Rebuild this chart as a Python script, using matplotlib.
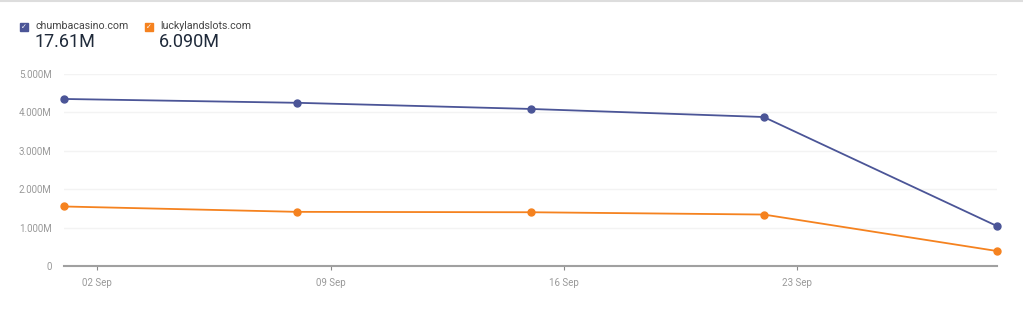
import numpy as np
import pandas as pd
import matplotlib.pyplot as plt
import matplotlib.dates as mdates
from matplotlib.ticker import FuncFormatter

# data
dates = pd.to_datetime(["2024-09-01", "2024-09-08", "2024-09-15", "2024-09-22", "2024-09-29"])
chumba = [4.35e6, 4.25e6, 4.09e6, 3.88e6, 1.04e6]
luckyland = [1.55e6, 1.41e6, 1.40e6, 1.34e6, 0.39e6]
names = ["chumbacasino.com", "luckylandslots.com"]
totals = ["17.61M", "6.090M"]
colors = ["#4b5597", "#f5821f"]

plt.rcParams["font.family"] = ["Roboto", "DejaVu Sans"]

fig = plt.figure(figsize=(10.23, 3.18), dpi=100)
ax = fig.add_axes([64 / 1023, 1 - 266 / 318, (997 - 64) / 1023, (266 - 74) / 318])

for vals, c in zip([chumba, luckyland], colors):
    ax.plot(dates, vals, color=c, lw=1.3, marker="o", ms=5, zorder=3, clip_on=False)

ax.set_xlim(dates[0], dates[-1])
ax.set_ylim(0, 5e6)
ax.set_yticks([0, 1e6, 2e6, 3e6, 4e6, 5e6])
ax.yaxis.set_major_formatter(FuncFormatter(lambda v, p: "0" if v == 0 else f"{v / 1e6:.3f}M"))
ax.xaxis.set_major_formatter(mdates.DateFormatter("%d Sep"))
ax.set_xticks(pd.to_datetime(["2024-09-02", "2024-09-09", "2024-09-16", "2024-09-23"]))

ax.grid(axis="y", color="#f3f3f3", lw=1)
ax.set_axisbelow(True)
for s in ["top", "right", "left"]:
    ax.spines[s].set_visible(False)
ax.spines["bottom"].set_color("#a0a0a0")
ax.spines["bottom"].set_linewidth(1.5)
ax.tick_params(axis="y", length=0, pad=9, labelsize=7, labelcolor="#999999")
ax.tick_params(axis="x", length=3, color="#888888", pad=6, labelsize=7, labelcolor="#999999")

# header legend
fig.add_artist(plt.Line2D([0, 1], [0.997, 0.997], color="#dddddd", lw=1.5))
for i, (n, t, c) in enumerate(zip(names, totals, colors)):
    x0 = 20 + i * 125
    fig.patches.append(plt.Rectangle((x0 / 1023, 1 - 31 / 318), 8 / 1023, 8 / 318,
                                     color=c, transform=fig.transFigure, figure=fig))
    fig.text((x0 + 4) / 1023, 1 - 27 / 318, "✓", color="white", fontsize=5,
             ha="center", va="center", family="DejaVu Sans")
    fig.text((x0 + 15) / 1023, 1 - 26 / 318, n, fontsize=7.7, color="#444444", va="center")
    fig.text((x0 + 14) / 1023, 1 - 42 / 318, t, fontsize=13, color="#1f2a3a", va="center")

fig.savefig("out.png", dpi=100)
